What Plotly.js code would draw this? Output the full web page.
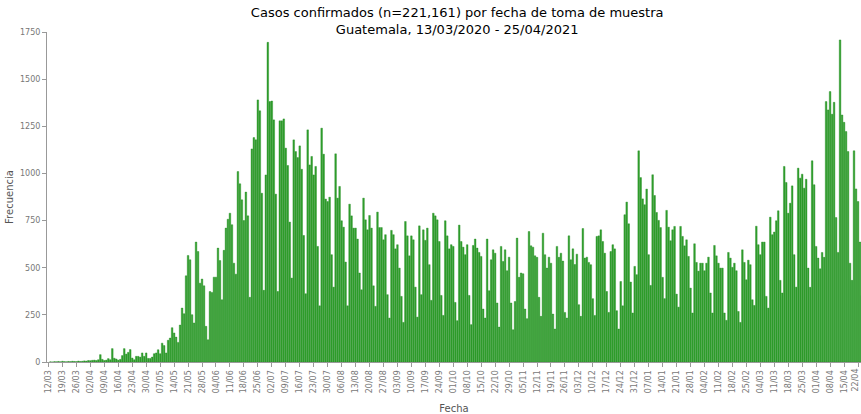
<!DOCTYPE html>
<html>
<head>
<meta charset="utf-8">
<script src="https://cdn.plot.ly/plotly-3.0.1.min.js"></script>
<style>
  html, body { margin: 0; padding: 0; background: #ffffff; }
  #chart { width: 861px; height: 414px; }
</style>
</head>
<body>
<div id="chart"></div>
<script>
// First sample date shown (13/03/2020); one bar per consecutive day
const startDate = '2020-03-13';

// Daily confirmed cases (frecuencia)
const casesMarApr = [1,0,2,1,3,1,4,2,1,3,2,4,3,2,5,3,4,6,5,8,7,9,10,8,12,39,14,8,10,18,12,71,20,16,10,14,34,71,42,51,66,21,12,30,30,26,48,30];
const casesMayJun = [48,19,19,26,44,48,65,44,100,87,48,115,127,182,154,132,104,196,286,256,457,565,542,251,207,636,586,418,440,404,189,118,374,369,450,450,604,538,330,592,710,757,789];
const casesJunJul = [728,524,466,1010,945,860,750,901,775,343,1130,1190,1178,1390,1332,895,380,992,1695,1381,1384,1284,890,374,1279,1279,1289,1134,1042,742,445,1178,1116,1084,1146,1022,671,362,1231,1045];
const casesJulAug = [1090,992,1037,613,298,1240,1102,864,851,874,569,397,1104,869,931,749,715,530,298,837,775,710,710,652,472,383,869,754,701,777,710,404,295,795,713,713,648,675,357,233,698];
const casesSepOct = [675,600,622,498,348,210,745,669,563,669,648,397,238,722,357,701,645,710,516,327,789,775,754,639,353,247,749,669,600,622,613,316,219,726,639,609,569,622,353];
const casesOctNov = [198,618,652,604,581,560,281,233,652,378,542,595,577,313,185,613,533,595,484,556,313,171,321,657,449,472,468,281,230,692,616,609,563,555,343,242,683,569,498,556];
const casesNovDec = [524,254,175,613,555,577,535,263,233,669,542,600,517,572,304,242,708,551,556,528,516,336,247,666,669,701,639,577,374,263,586,622,600,272,175,427];
const casesDecJan = [298,781,848,733,424,260,507,463,1120,978,865,834,917,569,406,993,883,793,751,713,449,336,804,715,643,701,719,360,291,719,666,616,648,560,392,260,627,528,482,524];
const casesFebApr = [524,484,524,556,366,260,618,563,524,498,498,260,221,581,551,502,524,484,268,210,595,528,436,540,516,330,300,720,622,569,636,636,348,286,768,675,689,749,802,433,366,1037,952,789,842,934,569,397,1028,975,996,922,969,498,396,1067,940,613,551,494,581,555,1381,1337,1434,1314,1377,766,581,1708,1310,1271,1222,1116,524,433,1120,918,851,636,353];

const cases = [].concat(casesMarApr, casesMayJun, casesJunJul, casesJulAug,
                        casesSepOct, casesOctNov, casesNovDec, casesDecJan, casesFebApr);

// Consecutive daily dates for each bar
const DAY = 86400000;
const dates = [];
const d0 = new Date(startDate + 'T00:00:00Z');
for (let i = 0; i < cases.length; i++) {
  dates.push(new Date(d0.getTime() + i * DAY).toISOString().slice(0, 10));
}

// Weekly x ticks: 12/03/2020 ... 22/04/2021
const firstTick = '2020-03-12';
const lastTick = '2021-04-22';
const tickVals = [], tickText = [];
for (let t = new Date(firstTick + 'T00:00:00Z'); t <= new Date(lastTick + 'T00:00:00Z'); t = new Date(t.getTime() + 7 * DAY)) {
  const iso = t.toISOString().slice(0, 10);
  tickVals.push(iso);
  tickText.push(iso.slice(8, 10) + '/' + iso.slice(5, 7));
}
// the last label sits at the right edge; it is drawn shifted inward as an annotation
const edgeLabel = tickText[tickText.length - 1];
tickText[tickText.length - 1] = '';

const titleText = 'Casos confirmados (n=221,161) por fecha de toma de muestra<br>Guatemala, 13/03/2020 - 25/04/2021';
const xTitle = 'Fecha';
const yTitle = 'Frecuencia';
const yTickVals = [0, 250, 500, 750, 1000, 1250, 1500, 1750];

const trace = {
  type: 'bar',
  x: dates,
  y: cases,
  marker: { color: '#31a02d', line: { color: '#228b22', width: 0.4 } },
  hoverinfo: 'x+y'
};

const tickFont = { family: 'DejaVu Sans, Verdana, sans-serif', size: 8, color: '#777777' };

const layout = {
  width: 861,
  height: 414,
  margin: { l: 47, r: 0, t: 32, b: 52, pad: 0 },
  paper_bgcolor: '#ffffff',
  plot_bgcolor: '#ffffff',
  bargap: 0.18,
  showlegend: false,
  title: {
    text: titleText,
    font: { family: 'DejaVu Sans, Verdana, sans-serif', size: 13, color: '#000000' },
    x: 0.531, xanchor: 'center',
    xref: 'container', yref: 'container',
    y: 0.959, yanchor: 'middle'
  },
  xaxis: {
    type: 'date',
    range: ['2020-03-11 06:00', '2021-04-23 12:00'],
    tickmode: 'array',
    tickvals: tickVals,
    ticktext: tickText,
    tickangle: -90,
    tickfont: tickFont,
    ticks: 'outside',
    ticklen: 4,
    tickcolor: '#999999',
    showline: true,
    linecolor: '#999999',
    linewidth: 1,
    showgrid: false,
    zeroline: false,
    title: { text: xTitle, font: { family: 'DejaVu Sans, Verdana, sans-serif', size: 10, color: '#555555' }, standoff: 12 }
  },
  yaxis: {
    range: [0, 1750],
    tickvals: yTickVals,
    ticktext: yTickVals.map(String),
    tickfont: tickFont,
    ticks: 'outside',
    ticklen: 4,
    tickcolor: '#999999',
    showline: true,
    linecolor: '#999999',
    linewidth: 1,
    showgrid: false,
    zeroline: false,
    title: { text: yTitle, font: { family: 'DejaVu Sans, Verdana, sans-serif', size: 10, color: '#555555' }, standoff: 4 }
  },
  annotations: [{
    text: edgeLabel,
    x: lastTick, xref: 'x',
    y: 0, yref: 'paper',
    xanchor: 'center', yanchor: 'top',
    textangle: -90,
    xshift: -3, yshift: -5,
    showarrow: false,
    font: tickFont
  }]
};

Plotly.newPlot('chart', [trace], layout, { displayModeBar: false, staticPlot: true });
</script>
</body>
</html>
